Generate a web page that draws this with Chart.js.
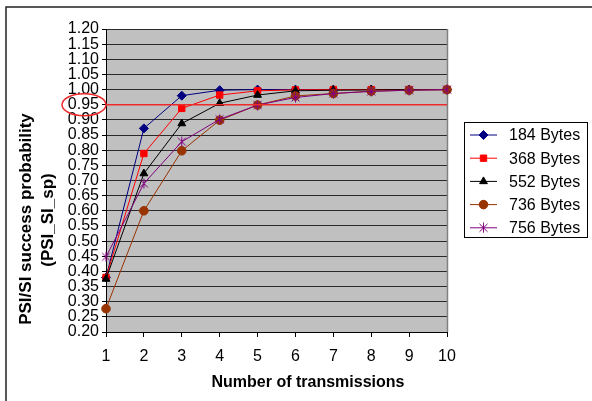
<!DOCTYPE html>
<html lang="en">

<head>
  <meta charset="UTF-8" />
  <title>PSI/SI success probability</title>
  <script src="https://cdn.jsdelivr.net/npm/chart.js@4.4.1/dist/chart.umd.min.js"></script>
  <style>
    html, body {
      margin: 0;
      padding: 0;
      background: #fff;
    }

    #canvas-container {
      position: relative;
      width: 592px;
      height: 401px;
    }
  </style>
</head>

<body>
  <div id="canvas-container">
    <canvas id="psiChart" width="592" height="401"></canvas>
  </div>

  <script>
    // number of transmissions on the x axis
    const transmissions = ['1', '2', '3', '4', '5', '6', '7', '8', '9', '10'];

    // success probability per packet size
    const bytes184 = [0.380, 0.872, 0.980, 0.998, 1.000, 1.000, 1.000, 1.000, 1.000, 1.000];
    const bytes368 = [0.380, 0.789, 0.938, 0.982, 0.996, 0.999, 1.000, 1.000, 1.000, 1.000];
    const bytes552 = [0.375, 0.723, 0.888, 0.955, 0.982, 0.996, 0.998, 0.999, 1.000, 1.000];
    const bytes736 = [0.277, 0.600, 0.798, 0.899, 0.949, 0.979, 0.987, 0.995, 0.998, 1.000];
    const bytes756 = [0.448, 0.690, 0.828, 0.902, 0.949, 0.974, 0.987, 0.994, 0.998, 1.000];

    const seriesNames = ['184 Bytes', '368 Bytes', '552 Bytes', '736 Bytes', '756 Bytes'];

    // y axis runs 0.20 .. 1.20 in steps of 0.05
    const yMin = 0.20;
    const yMax = 1.20;
    const yStep = 0.05;
    const target = 0.95; // required probability, marked in red

    const font = "'Liberation Sans', Arial, sans-serif";

    // excel style star: an X with a vertical bar
    function makeStar(color) {
      const c = document.createElement('canvas');
      c.width = 11;
      c.height = 11;
      const g = c.getContext('2d');
      g.strokeStyle = color;
      g.lineWidth = 1;
      g.beginPath();
      g.moveTo(1.5, 1.5); g.lineTo(9.5, 9.5);
      g.moveTo(9.5, 1.5); g.lineTo(1.5, 9.5);
      g.moveTo(5.5, 0.5); g.lineTo(5.5, 10.5);
      g.stroke();
      return c;
    }

    const styles = [
      { color: '#000080', point: 'rectRot', radius: 4.5 },
      { color: '#ff0000', point: 'rect', radius: 4.5 },
      { color: '#000000', point: 'triangle', radius: 4.5 },
      { color: '#993300', point: 'circle', radius: 4.3 },
      { color: '#800080', point: makeStar('#800080'), radius: 5 }
    ];

    const values = [bytes184, bytes368, bytes552, bytes736, bytes756];

    const datasets = values.map(function (data, i) {
      return {
        label: seriesNames[i],
        data: data,
        borderColor: styles[i].color,
        backgroundColor: styles[i].color,
        borderWidth: 1,
        pointStyle: styles[i].point,
        pointRadius: styles[i].radius,
        pointHoverRadius: styles[i].radius,
        pointBorderWidth: 1,
        tension: 0,
        clip: false,
        order: 5 - i // later series on top
      };
    });

    // grey plot area, outer frame and right edge
    const backdrop = {
      id: 'backdrop',
      beforeDraw(chart) {
        const ctx = chart.ctx;
        const a = chart.chartArea;
        ctx.save();
        ctx.fillStyle = '#fff';
        ctx.fillRect(0, 0, chart.width, chart.height);
        ctx.strokeStyle = '#222';
        ctx.lineWidth = 1.5;
        ctx.beginPath();
        ctx.moveTo(6, chart.height);
        ctx.lineTo(6, 7);
        ctx.lineTo(chart.width, 7);
        ctx.stroke();
        ctx.fillStyle = '#c0c0c0';
        ctx.fillRect(a.left, a.top, a.right - a.left, a.bottom - a.top);
        ctx.restore();
      },
      beforeDatasetsDraw(chart) {
        const ctx = chart.ctx;
        const a = chart.chartArea;
        ctx.save();
        ctx.strokeStyle = '#808080';
        ctx.lineWidth = 1.5;
        ctx.beginPath();
        ctx.moveTo(a.right + 0.5, a.top);
        ctx.lineTo(a.right + 0.5, a.bottom);
        ctx.stroke();
        ctx.restore();
      }
    };

    // red threshold line with a ring round its tick label
    const threshold = {
      id: 'threshold',
      afterDatasetsDraw(chart) {
        const ctx = chart.ctx;
        const a = chart.chartArea;
        const y = chart.scales.y.getPixelForValue(target);
        ctx.save();
        ctx.strokeStyle = '#ee2a2a';
        ctx.lineWidth = 1.5;
        ctx.beginPath();
        ctx.moveTo(a.left, y);
        ctx.lineTo(a.right, y);
        ctx.stroke();
        ctx.beginPath();
        ctx.ellipse(84, y, 22, 11, 0, 0, Math.PI * 2);
        ctx.stroke();
        ctx.restore();
      }
    };

    // axis titles and the boxed legend
    const labelsAndLegend = {
      id: 'labelsAndLegend',
      afterDraw(chart) {
        const ctx = chart.ctx;
        ctx.save();
        ctx.fillStyle = '#000';
        ctx.textAlign = 'center';
        ctx.textBaseline = 'middle';
        ctx.font = 'bold 16px ' + font;
        ctx.fillText('Number of transmissions', 308, 383);

        ctx.font = 'bold 17px ' + font;
        ctx.save();
        ctx.translate(26, 219);
        ctx.rotate(-Math.PI / 2);
        ctx.fillText('PSI/SI success probability', 0, 0);
        ctx.restore();
        ctx.save();
        ctx.translate(48, 220);
        ctx.rotate(-Math.PI / 2);
        ctx.fillText('(PSI_SI_sp)', 0, 0);
        ctx.restore();

        // legend box
        ctx.fillStyle = '#fff';
        ctx.fillRect(464, 122, 124, 116);
        ctx.strokeStyle = '#000';
        ctx.lineWidth = 1;
        ctx.strokeRect(464.5, 122.5, 123, 115);

        ctx.font = '16px ' + font;
        ctx.textAlign = 'left';
        chart.data.datasets.forEach(function (ds, i) {
          const y = 135 + i * 23.2;
          ctx.strokeStyle = ds.borderColor;
          ctx.fillStyle = ds.backgroundColor;
          ctx.lineWidth = 1;
          ctx.beginPath();
          ctx.moveTo(470, y);
          ctx.lineTo(497, y);
          ctx.stroke();
          Chart.helpers.drawPoint(ctx, {
            pointStyle: ds.pointStyle,
            radius: ds.pointRadius,
            rotation: 0,
            borderWidth: 1
          }, 483.5, y);
          ctx.fillStyle = '#000';
          ctx.fillText(ds.label, 509, y + 1);
        });
        ctx.restore();
      }
    };

    const canvas = document.getElementById('psiChart');
    const ctx = canvas.getContext('2d');

    const ch = new Chart(ctx, {
      type: 'line',
      data: {
        labels: transmissions,
        datasets: datasets
      },
      options: {
        responsive: false,
        animation: false,
        layout: {
          padding: { left: 0, right: 145, top: 29, bottom: 0 }
        },
        plugins: {
          legend: { display: false },
          tooltip: { enabled: false }
        },
        scales: {
          x: {
            offset: false,
            afterFit: function (scale) {
              scale.height = 69;
            },
            grid: {
              drawOnChartArea: false,
              drawTicks: true,
              tickLength: 5,
              tickColor: '#000'
            },
            border: { color: '#000', width: 1 },
            ticks: {
              color: '#000',
              padding: 10,
              maxRotation: 0,
              font: { family: font, size: 16 }
            }
          },
          y: {
            min: yMin,
            max: yMax,
            afterFit: function (scale) {
              scale.width = 106;
            },
            grid: {
              color: '#2a2a2a',
              lineWidth: 1,
              tickLength: 4,
              tickColor: '#000'
            },
            border: { color: '#000', width: 1 },
            ticks: {
              stepSize: yStep,
              color: '#000',
              padding: 3,
              autoSkip: false,
              font: { family: font, size: 16 },
              callback: function (v) {
                return Number(v).toFixed(2);
              }
            }
          }
        }
      },
      plugins: [backdrop, threshold, labelsAndLegend]
    });
  </script>
</body>

</html>
